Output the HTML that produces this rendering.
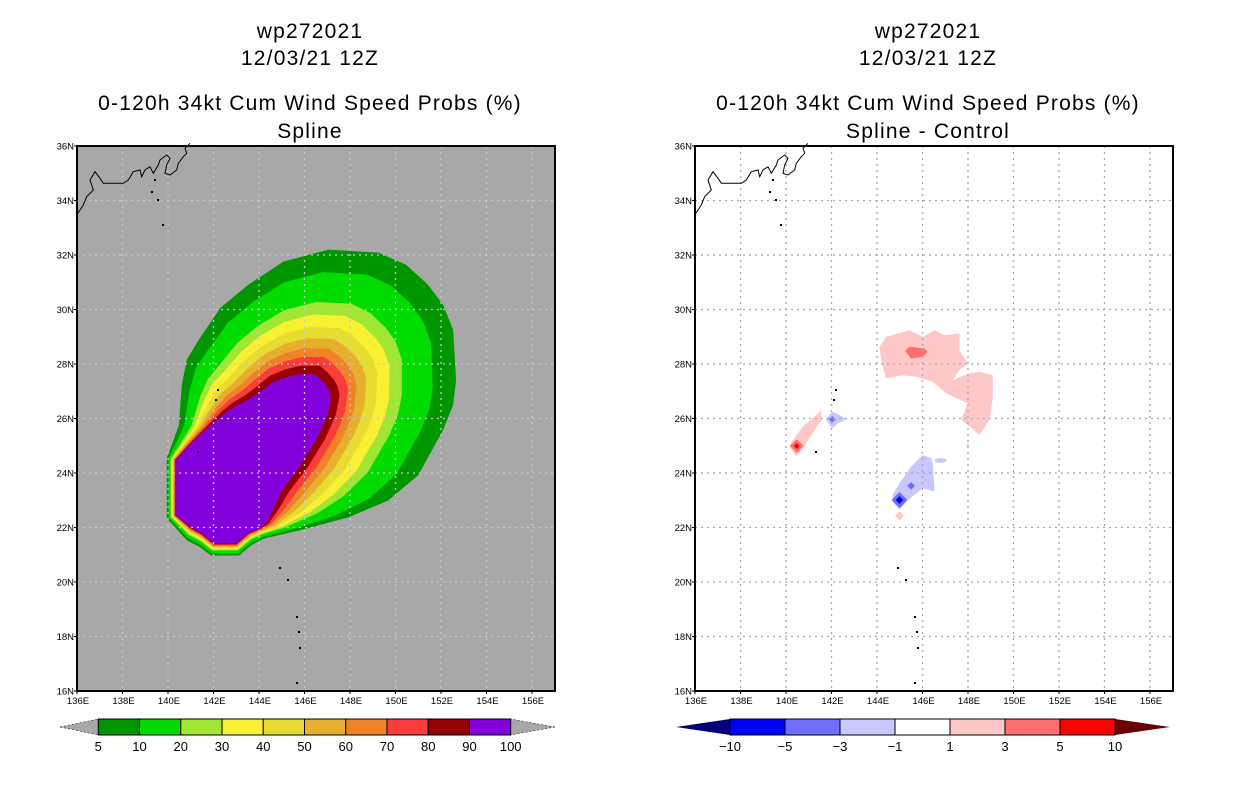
<!DOCTYPE html>
<html><head><meta charset="utf-8"><style>
html,body{margin:0;padding:0;background:#fff;}
svg{display:block;}
text{font-family:"Liberation Sans",sans-serif;fill:#000;}
</style></head><body>
<svg id="root" width="1236" height="800" viewBox="0 0 1236 800">
<g id="left"></g>
<g id="right"></g>
</svg>
<script>
// ---- data (lon/lat) ----
const latTicks = [16,18,20,22,24,26,28,30,32,34,36];
const lonTicks = [136,138,140,142,144,146,148,150,152,154,156];
const probLevels = [5,10,20,30,40,50,60,70,80,90];
const probColors = ['#009600','#00dc00','#a0e632','#faf032','#e6dc32','#e6af2d','#f08228','#fa3c3c','#960000','#8200dc'];
const probLabels = ['5','10','20','30','40','50','60','70','80','90','100'];
// fraction of distance from outer (5%) to inner (90%) contour for each level
const levelFractions = [0,0.18,0.42,0.52,0.62,0.71,0.79,0.86,0.93,1];
const outerLon = [147.05,149.23,150.45,151.41,152.07,152.51,152.64,152.51,152.07,150.98,149.67,147.92,145.74,144.21,143.64,143.12,141.90,141.37,140.85,139.97,139.97,140.19,140.50,140.63,140.85,141.37,142.33,143.55,145.08];
const outerLat = [32.18,32.07,31.63,30.90,30.17,29.25,27.41,26.50,25.58,23.93,23.01,22.39,21.91,21.61,21.36,20.99,20.99,21.32,21.54,22.35,24.55,25.03,25.76,27.23,28.15,28.88,30.06,30.90,31.74];
const innerLon = [145.74,146.48,146.70,146.96,147.09,147.14,146.96,146.72,146.48,145.74,145.00,144.65,144.30,143.99,143.55,142.99,142.03,141.50,141.02,140.37,140.37,141.07,141.81,142.55,143.03,143.55,144.08,144.56,145.17];
const innerLat = [27.60,27.60,27.41,27.16,26.94,26.68,26.06,25.63,25.21,24.22,23.38,22.75,22.17,21.98,21.83,21.43,21.43,21.80,22.02,22.46,24.48,25.10,25.69,26.20,26.46,26.68,26.97,27.30,27.49];

const diffLabels = ['−10','−5','−3','−1','1','3','5','10'];
const diffColors = ['#0000ff','#6e6eff','#c8c8ff','#ffffff','#ffc8c8','#ff6e6e','#ff0000'];
const pinkBigLon = [144.11,144.40,145.43,146.01,146.53,146.97,147.63,147.63,147.99,147.63,147.33,148.07,148.51,149.09,149.09,148.95,148.51,147.70,147.99,147.04,146.45,145.72,145.13,144.40,144.18];
const pinkBigLat = [28.63,29.00,29.24,29.00,29.24,29.06,29.12,28.51,28.02,27.78,27.41,27.66,27.71,27.59,26.80,25.95,25.40,25.95,26.56,26.92,27.35,27.53,27.59,27.47,28.14];
const redSpotLon = [145.24,145.43,146.09,146.23,146.01,145.50];
const redSpotLat = [28.48,28.63,28.57,28.45,28.26,28.20];
const pinkStreakLon = [140.15,140.45,140.74,141.03,141.55,141.55,141.33,140.74,140.30];
const pinkStreakLat = [24.97,24.60,24.91,25.27,25.95,26.31,26.13,25.70,25.21];
const blueSmallLon = [141.74,142.03,142.35,142.67,142.28,142.03];
const blueSmallLat = [25.97,26.25,26.13,25.97,25.82,25.64];
const blueBigLon = [144.69,144.99,145.28,146.01,146.53,146.45,146.38,146.01,145.50,144.99,144.69];
const blueBigLat = [22.95,22.65,22.95,23.44,23.32,24.36,24.54,24.66,24.23,23.63,23.20];
const diamondLon = [140.47,140.47,142.03,144.99,144.99,145.50,144.99,147.99];
const diamondLat = [24.99,24.99,25.97,23.01,23.01,23.53,22.43,25.03];
const diamondSize = [0.3,0.13,0.15,0.35,0.17,0.17,0.2,0.08];
const diamondColor = ['#ff6e6e','#ff0000','#6e6eff','#6e6eff','#0000ff','#6e6eff','#ffc8c8','#ffc8c8'];

const coastX = [76.7,83.3,86.7,93.3,90,95,100,103.3,123.3,128.3,133.3,140,141.7,145,150,153.3,158.3,160,166.7,170,166.7,165,170,176.7,178.3,183.3,186.7,185,190];
const coastY = [215,205,196.7,190,180,171.7,178.3,183.3,183.3,180,171.7,170,176.7,170,166.7,173.3,165,160,155,158.3,165,173.3,175,170,163.3,156.7,153.3,148.3,143.3];
const islandX = [155,152,158,163,218,216,198,280,288,297,299,300,297];
const islandY = [180,192,200,225,390,400,452,568,580,617,632,648,683];

const NS='http://www.w3.org/2000/svg';
function mk(tag, attrs, parent){const e=document.createElementNS(NS,tag);for(const k in attrs)e.setAttribute(k,attrs[k]);parent.appendChild(e);return e;}

function buildPanel(g, x0, isDiff){
  const W=478, Y0=146, Y1=691;
  const px = lon => x0 + (lon-136)*22.75;
  const py = lat => Y1 - (lat-16)*27.25;
  const poly = (lons,lats)=>lons.map((l,i)=>px(l).toFixed(1)+','+py(lats[i]).toFixed(1)).join(' ');
  const cx = x0 + W/2 - 6;
  const titles = [['wp272021',38,'title-storm-id'],['12/03/21 12Z',65,'title-date'],['0-120h 34kt Cum Wind Speed Probs (%)',110,'title-product'],[isDiff?'Spline - Control':'Spline',138,'title-method']];
  titles.forEach(t=>{
    const e=mk('text',{x:cx,y:t[1],'text-anchor':'middle','font-size':'21','letter-spacing':'1.2'},g);
    e.textContent=t[0];
    
    
  });
  const bg=mk('rect',{x:x0,y:Y0,width:W,height:Y1-Y0,fill:isDiff?'#ffffff':'#a8a8a8'},g);
  
  
  const shapes=mk('g',{},g);
  
  
  if(!isDiff){
    levelFractions.forEach((f,li)=>{
      const lons=outerLon.map((o,i)=>o+(innerLon[i]-o)*f);
      const lats=outerLat.map((o,i)=>o+(innerLat[i]-o)*f);
      const p=mk('polygon',{points:poly(lons,lats),fill:probColors[li],'stroke':probColors[li],'stroke-width':'1','stroke-linejoin':'round'},shapes);
      
      
    });
  } else {
    const groups=[[pinkBigLon,pinkBigLat,'#ffc8c8','pink-region-north'],[redSpotLon,redSpotLat,'#ff6e6e','red-spot-north'],[pinkStreakLon,pinkStreakLat,'#ffc8c8','pink-streak-west'],[blueSmallLon,blueSmallLat,'#c8c8ff','blue-region-small'],[blueBigLon,blueBigLat,'#c8c8ff','blue-region-south']];
    groups.forEach(gp=>{
      const p=mk('polygon',{points:poly(gp[0],gp[1]),fill:gp[2]},shapes);
      
      
    });
    const e=mk('ellipse',{cx:px(146.79),cy:py(24.46),rx:6,ry:2.5,fill:'#c8c8ff'},shapes);
    
    
    diamondLon.forEach((l,i)=>{
      const cxp=px(l), cyp=py(diamondLat[i]), s=diamondSize[i]*22.75;
      const d=mk('polygon',{points:`${cxp},${cyp-s} ${cxp+s},${cyp} ${cxp},${cyp+s} ${cxp-s},${cyp}`,fill:diamondColor[i]},shapes);
      
      
    });
  }
  const grid=mk('g',{stroke:isDiff?'#a8a8a8':'#c8c8c8','stroke-width':'1.3','stroke-dasharray':'2,4',fill:'none'},g);
  
  
  lonTicks.slice(1).forEach(l=>mk('line',{x1:px(l),y1:Y0,x2:px(l),y2:Y1},grid));
  latTicks.slice(1,-1).forEach(l=>mk('line',{x1:x0,y1:py(l),x2:x0+W,y2:py(l)},grid));
  const off = x0-77;
  const coast=mk('polyline',{points:coastX.map((x,i)=>(x+off)+','+coastY[i]).join(' '),fill:'none',stroke:'#000','stroke-width':'1'},g);
  
  
  islandX.forEach((x,i)=>{
    const r=mk('rect',{x:x+off-1,y:islandY[i]-1,width:2,height:2,fill:'#000'},g);
    
    
  });
  const fr=mk('rect',{x:x0,y:Y0,width:W,height:Y1-Y0,fill:'none',stroke:'#000','stroke-width':'2'},g);
  
  
  latTicks.forEach(l=>{
    mk('line',{x1:x0-3,y1:py(l),x2:x0,y2:py(l),stroke:'#000'},g);
    const t=mk('text',{x:x0-3,y:py(l)+3.5,'text-anchor':'end','font-size':'9.5'},g);
    t.textContent=l+'N';
    
    
  });
  lonTicks.forEach(l=>{
    mk('line',{x1:px(l),y1:Y1,x2:px(l),y2:Y1+3,stroke:'#000'},g);
    const t=mk('text',{x:px(l)+1,y:Y1+13,'text-anchor':'middle','font-size':'9.5'},g);
    t.textContent=l+'E';
    
    
  });
  const cb=mk('g',{},g);
  
  
  const yT=719, yB=735, yM=727;
  if(!isDiff){
    const b0=98.3, b1=510.7, n=probColors.length, w=(b1-b0)/n;
    mk('polygon',{points:`60,${yM} ${b0},${yT} ${b0},${yB}`,fill:'#a8a8a8',stroke:'#000','stroke-width':'0.5','stroke-dasharray':'2,2'},cb);
    mk('polygon',{points:`555,${yM} ${b1},${yT} ${b1},${yB}`,fill:'#a8a8a8',stroke:'#000','stroke-width':'0.5','stroke-dasharray':'2,2'},cb);
    probColors.forEach((c,i)=>{
      const r=mk('rect',{x:b0+i*w,y:yT,width:w,height:yB-yT,fill:c,stroke:'#000','stroke-width':'1'},cb);
      
      
    });
    probLabels.forEach((s,i)=>{
      const t=mk('text',{x:b0+i*w,y:751,'text-anchor':'middle','font-size':'13'},cb);
      t.textContent=s;
      
      
    });
  } else {
    const b0=730, b1=1115, n=diffColors.length, w=(b1-b0)/n;
    mk('polygon',{points:`676,${yM} ${b0},${yT} ${b0},${yB}`,fill:'#000078'},cb);
    mk('polygon',{points:`1170,${yM} ${b1},${yT} ${b1},${yB}`,fill:'#690000'},cb);
    diffColors.forEach((c,i)=>{
      const r=mk('rect',{x:b0+i*w,y:yT,width:w,height:yB-yT,fill:c,stroke:'#000','stroke-width':'1'},cb);
      
      
    });
    diffLabels.forEach((s,i)=>{
      const t=mk('text',{x:b0+i*w,y:751,'text-anchor':'middle','font-size':'13'},cb);
      t.textContent=s;
      
      
    });
  }
}
buildPanel(document.getElementById('left'), 77, false);
buildPanel(document.getElementById('right'), 695, true);
</script>
</body></html>
